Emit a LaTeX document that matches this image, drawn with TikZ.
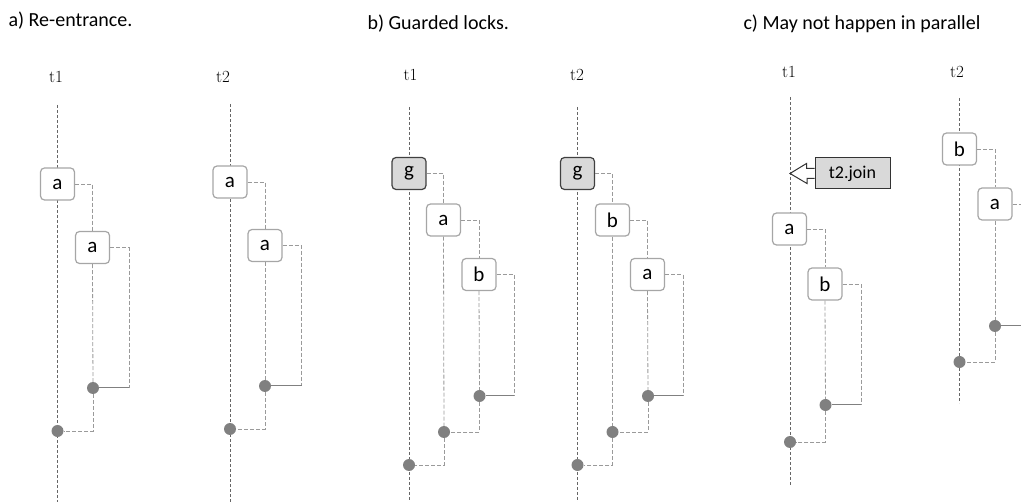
\documentclass[tikz,border=0pt]{standalone}
\usepackage{fontspec}
\usepackage{xcolor}
\usepackage{tikz}
\newfontfamily\calfont{Carlito}
\definecolor{boxgray}{HTML}{A6A6A6}
\definecolor{dotgray}{HTML}{808080}
\definecolor{linkgray}{HTML}{9A9A9A}
\definecolor{guardfill}{HTML}{D9D9D9}

\begin{document}
\begin{tikzpicture}[
  x=1pt, y=-1pt,
  lockbox/.style={draw=boxgray, fill=white, line width=1.2pt, rounded corners=4pt,
    minimum width=34pt, minimum height=32pt, inner sep=0pt, font=\calfont\fontsize{21}{21}\selectfont},
  guardbox/.style={lockbox, draw=black!75, fill=guardfill},
  joindot/.style={circle, fill=dotgray, inner sep=0pt, minimum size=12pt},
  thread/.style={draw=black!60, dash pattern=on 3pt off 2pt, line width=0.6pt},
  link/.style={draw=linkgray, dash pattern=on 4pt off 2pt, line width=0.8pt},
  release/.style={draw=dotgray, line width=1pt},
  tname/.style={font=\fontsize{17}{17}\selectfont},
  caption/.style={anchor=west, font=\calfont\fontsize{20}{20}\selectfont},
  joinbox/.style={draw=black!80, fill=guardfill, line width=1pt, minimum width=75pt,
    minimum height=31pt, inner sep=0pt, font=\calfont\fontsize{18}{18}\selectfont}
]
\useasboundingbox (0,0) rectangle (1021,502);
\clip (0,0) rectangle (1021,502);

% captions
\node[caption] (capa) at (5,21) {a) Re-entrance.};
\node[caption] (capb) at (364,24) {b) Guarded locks.};
\node[caption] (capc) at (740,24) {c) May not happen in parallel};

% a) re-entrance
\node[tname] (at1) at (56,77) {t1};
\node[tname] (at2) at (223,77) {t2};
\coordinate (at1top) at (57.5,105);
\coordinate (at1bot) at (57.5,502);
\coordinate (at2top) at (230,104);
\coordinate (at2bot) at (230,502);
\draw[thread] (at1top) -- (at1bot);
\draw[thread] (at2top) -- (at2bot);

\node[lockbox] (aa1) at (57.5,184) {a};
\node[lockbox] (aa2) at (92.5,247.5) {a};
\node[joindot] (ad1) at (93,388) {};
\node[joindot] (ad2) at (57.5,431) {};
\coordinate (ar1) at (129,388);
\draw[link] (aa1.east) -| (aa2.north);
\draw[link] (aa2.east) -| (ar1);
\draw[release] (ar1) -- (ad1);
\draw[link] (aa2.south) -- (ad1);
\draw[link] (ad1) |- (ad2);

\node[lockbox] (ab1) at (230,182) {a};
\node[lockbox] (ab2) at (265,245.5) {a};
\node[joindot] (bd1) at (265,386) {};
\node[joindot] (bd2) at (230,429) {};
\coordinate (br1) at (301.5,386);
\draw[link] (ab1.east) -| (ab2.north);
\draw[link] (ab2.east) -| (br1);
\draw[release] (br1) -- (bd1);
\draw[link] (ab2.south) -- (bd1);
\draw[link] (bd1) |- (bd2);

% b) guarded locks
\node[tname] (bt1) at (410.5,75) {t1};
\node[tname] (bt2) at (577,75) {t2};
\coordinate (bt1top) at (409,107);
\coordinate (bt1bot) at (409,502);
\coordinate (bt2top) at (577.5,107);
\coordinate (bt2bot) at (577.5,502);
\draw[thread] (bt1top) -- (bt1bot);
\draw[thread] (bt2top) -- (bt2bot);

\node[guardbox] (g1) at (409,173.5) {g};
\node[lockbox] (ga1) at (443.5,220) {a};
\node[lockbox] (gb1) at (479,274.5) {b};
\node[joindot] (gd1) at (479.5,396) {};
\node[joindot] (gd2) at (444,432) {};
\node[joindot] (gd3) at (409,465) {};
\coordinate (gr1) at (514,396);
\draw[link] (g1.east) -| (ga1.north);
\draw[link] (ga1.east) -| (gb1.north);
\draw[link] (gb1.east) -| (gr1);
\draw[release] (gr1) -- (gd1);
\draw[link] (gb1.south) -- (gd1);
\draw[link] (gd1) |- (gd2);
\draw[link] (ga1.south) -- (gd2);
\draw[link] (gd2) |- (gd3);

\node[guardbox] (g2) at (577.5,173.5) {g};
\node[lockbox] (gb2) at (612.5,220) {b};
\node[lockbox] (ga2) at (647.5,274.5) {a};
\node[joindot] (hd1) at (648,396) {};
\node[joindot] (hd2) at (612.5,432) {};
\node[joindot] (hd3) at (577.5,465) {};
\coordinate (hr1) at (683,396);
\draw[link] (g2.east) -| (gb2.north);
\draw[link] (gb2.east) -| (ga2.north);
\draw[link] (ga2.east) -| (hr1);
\draw[release] (hr1) -- (hd1);
\draw[link] (ga2.south) -- (hd1);
\draw[link] (hd1) |- (hd2);
\draw[link] (gb2.south) -- (hd2);
\draw[link] (hd2) |- (hd3);

% c) may not happen in parallel
\node[tname] (ct1) at (789,72) {t1};
\node[tname] (ct2) at (957,72) {t2};
\coordinate (ct1top) at (790,97);
\coordinate (ct1bot) at (790,485);
\coordinate (ct2top) at (959.5,98);
\coordinate (ct2bot) at (959.5,403);
\draw[thread] (ct1top) -- (ct1bot);
\draw[thread] (ct2top) -- (ct2bot);

\node[joinbox] (join) at (852.5,173.5) {t2.join};
\coordinate (jointip) at (790,173.5);
\draw[draw=black!80, fill=white, line width=1pt, line join=miter]
  ([yshift=5pt]join.west) -- ++(-8,0) -- ++(0,-5) -- (jointip) -- ++(17,10)
  -- ++(0,-5) -- ([yshift=-5pt]join.west);

\node[lockbox] (ca1) at (789.5,229) {a};
\node[lockbox] (cb1) at (825,284) {b};
\node[joindot] (cd1) at (825.5,405) {};
\node[joindot] (cd2) at (790,442) {};
\coordinate (cr1) at (861,405);
\draw[link] (ca1.east) -| (cb1.north);
\draw[link] (cb1.east) -| (cr1);
\draw[release] (cr1) -- (cd1);
\draw[link] (cb1.south) -- (cd1);
\draw[link] (cd1) |- (cd2);

\node[lockbox] (cb2) at (959.5,149) {b};
\node[lockbox] (ca2) at (995,204) {a};
\node[joindot] (ed1) at (995,326) {};
\node[joindot] (ed2) at (959.5,362) {};
\coordinate (er1) at (1031,326);
\draw[link] (cb2.east) -| (ca2.north);
\draw[link] (ca2.east) -| (er1);
\draw[release] (er1) -- (ed1);
\draw[link] (ca2.south) -- (ed1);
\draw[link] (ed1) |- (ed2);
\end{tikzpicture}
\end{document}
